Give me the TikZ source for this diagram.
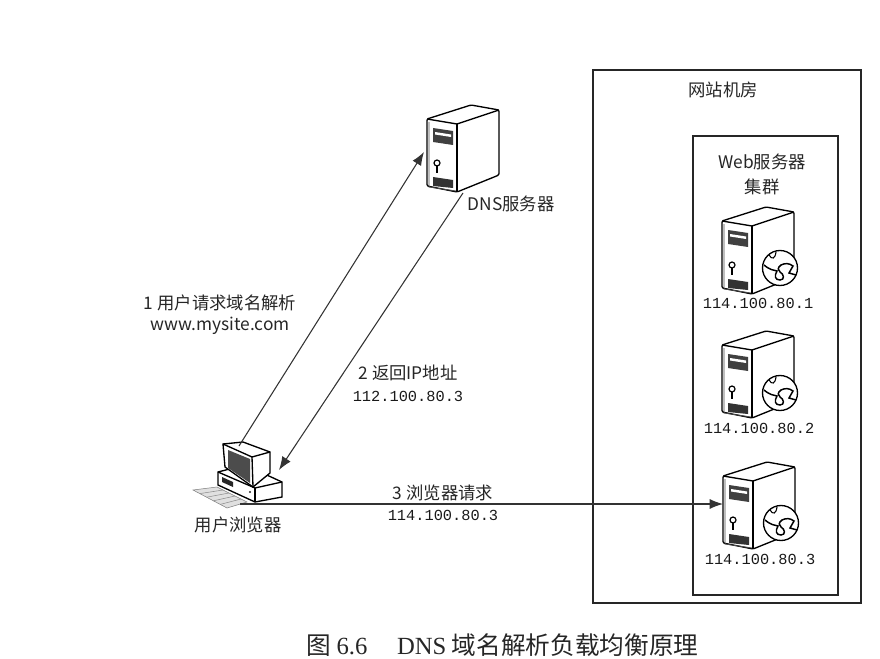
\documentclass[tikz,border=0pt]{standalone}
\usepackage{fontspec}
\setmainfont{Noto Sans CJK SC}
\newfontfamily\ipfont{Liberation Mono}
\newfontfamily\capfont{Liberation Serif}
\usepackage{tikz}
\usetikzlibrary{arrows.meta,calc}

\tikzset{
	lbl/.style={font=\fontsize{13}{15}\selectfont,inner sep=0pt,text=black!85},
	iplbl/.style={font=\fontsize{11.5}{14}\ipfont,inner sep=0pt,text=black!90},
	link/.style={line width=0.8pt,black!80,-{Latex[length=10pt,width=7.5pt]}},
	boxline/.style={line width=0.85pt,black!85},
	serverpic/.pic={
		\draw[line width=1pt,fill=white,rounded corners=1pt] (0,0) -- (44,-14) -- (72,-9) -- (72,56) -- (30,73) -- (0,67) -- cycle;
		\draw[line width=1pt] (0,0) -- (30,5) -- (72,-9);
		\draw[line width=1pt] (30,5) -- (30,73);
		\draw[line width=0.6pt,black!70] (2,3) -- (2,68) -- (29,72);
		\fill[black!75] (6,9) -- (26,12) -- (26,26) -- (6,23) -- cycle;
		\fill[white] (8,13) -- (24,15.5) -- (24,18) -- (8,15.5) -- cycle;
		\draw[line width=0.9pt] (10,44) circle (3);
		\draw[line width=1.1pt] (10,47) -- (10,54);
		\fill[black!80] (6,58) -- (26,61) -- (26,69) -- (6,67) -- cycle;
	},
	globepic/.pic={
		\draw[line width=1pt,fill=white] (0,0) circle (17.5);
		\draw[line width=1.1pt] (-16,-3) .. controls (-10,2) and (-7,2) .. (-3,3) .. controls (-6,8) and (-5,12) .. (0,12) .. controls (5,12) and (4,6) .. (0,4) .. controls (-2,2) and (-3,0) .. (1,-3) .. controls (5,-5) and (9,-5) .. (13,-2) -- (9,5) -- (16,7);
		\draw[line width=0.8pt] (-11,-13) .. controls (-8,-8) and (-5,-9) .. (-4,-16);
	},
}

\begin{document}
\begin{tikzpicture}[x=0.75pt,y=-0.75pt]
	\useasboundingbox (0,0) rectangle (880,659);
	% machine room
	\draw[boxline] (593,70) rectangle (861,603);
	\draw[boxline] (693,136) rectangle (838,595);
	\node[lbl] (room) at (723,90) {网站机房};
	\node[lbl] (webA) at (762,162) {Web服务器};
	\node[lbl] (webB) at (762,187) {集群};
	% servers
	\pic at (427,119) {serverpic};
	\pic at (722,221) {serverpic};
	\pic at (722,345) {serverpic};
	\pic at (723,476) {serverpic};
	\pic at (780,268) {globepic};
	\pic at (780,393) {globepic};
	\pic at (781,523) {globepic};
	\node[lbl] (dns) at (511,204) {DNS服务器};
	\node[iplbl] (ipA) at (758,303) {114.100.80.1};
	\node[iplbl] (ipB) at (759,428) {114.100.80.2};
	\node[iplbl] (ipC) at (760,559) {114.100.80.3};
	% browser
	\draw[line width=0.4pt,black!50,fill=black!12] (193,490) -- (217,487) -- (247,502) -- (227,508) -- cycle;
	\foreach \i in {0.2,0.4,0.6,0.8}
		\draw[line width=0.4pt,black!45] ($(193,490)!\i!(227,508)$) -- ($(217,487)!\i!(247,502)$);
	\draw[line width=1pt,fill=white] (218,472) -- (245,465) -- (282,482) -- (282,497) -- (255,502) -- (218,485) -- cycle;
	\draw[line width=1pt] (218,472) -- (255,488) -- (282,482);
	\draw[line width=1pt] (255,488) -- (255,502);
	\fill[black!85] (222,477) -- (233,482) -- (233,487) -- (222,482) -- cycle;
	\fill[black!85] (250,492) circle (1.2);
	\draw[line width=1pt,fill=white] (223,444) -- (243,442) -- (270,452) -- (270,473) -- (253,487) -- (225,467) -- cycle;
	\draw[line width=1pt] (223,444) -- (252,457) -- (270,452);
	\draw[line width=1pt] (252,457) -- (253,487);
	\fill[black!70] (228,450) -- (250,459) -- (250,483) -- (228,468) -- cycle;
	\node[lbl] (user) at (238,525) {用户浏览器};
	% connectors
	\coordinate (userA) at (239,446);
	\coordinate (dnsA) at (424,152);
	\coordinate (dnsB) at (463,193);
	\coordinate (userB) at (279,470);
	\coordinate (userC) at (240,504);
	\coordinate (serverC) at (723,504);
	\draw[link] (userA) -- (dnsA);
	\draw[link] (dnsB) -- (userB);
	\draw[link] (userC) -- (serverC);
	\node[lbl] (stepA) at (220,303) {1 用户请求域名解析};
	\node[lbl] (siteA) at (220,326) {www.mysite.com};
	\node[lbl] (stepB) at (408,373) {2 返回IP地址};
	\node[iplbl] (ipD) at (408,396) {112.100.80.3};
	\node[lbl] (stepC) at (443,493) {3 浏览器请求};
	\node[iplbl] (ipE) at (443,515) {114.100.80.3};
	% caption
	\node[inner sep=0pt,text=black!85] (fig) at (502.5,645) {\fontsize{18.5}{22}\selectfont 图 {\capfont 6.6}\hspace{1.2em}{\capfont DNS} 域名解析负载均衡原理};
\end{tikzpicture}
\end{document}
